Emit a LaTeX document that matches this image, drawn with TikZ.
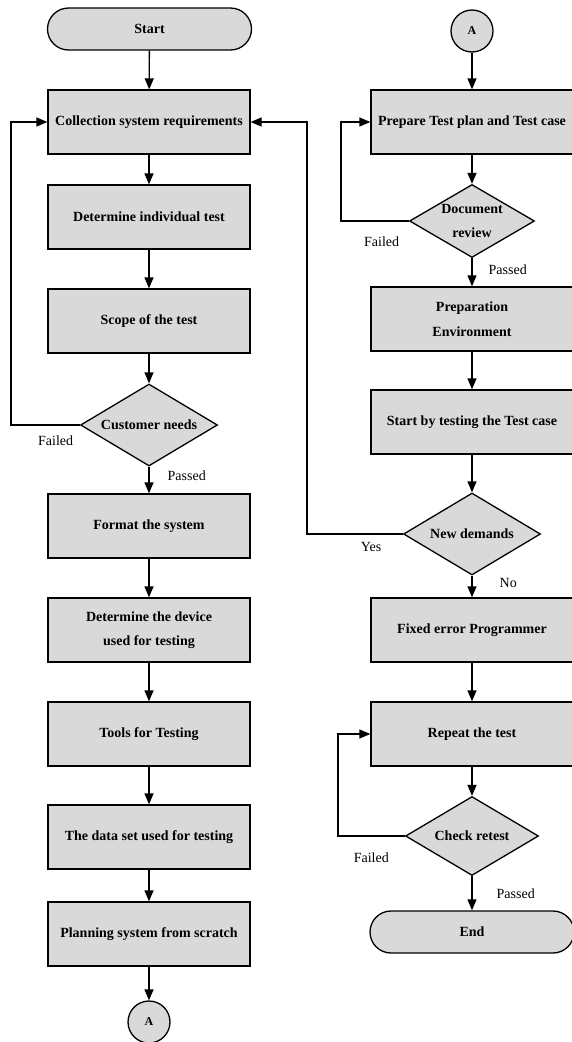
\documentclass[tikz,border=0pt]{standalone}
\usepackage{fontspec}
\setmainfont{Liberation Serif}
\usetikzlibrary{arrows.meta,shapes.geometric,shapes.misc,positioning}
\definecolor{boxgray}{HTML}{D9D9D9}

\begin{document}
\begin{tikzpicture}[x=1pt,y=-1pt,
    every node/.style={font=\fontsize{14}{24.5}\selectfont},
    process/.style={rectangle, draw, fill=boxgray, line width=1.3pt, minimum width=202pt, minimum height=64pt, inner sep=0pt, align=center, font=\bfseries\fontsize{14}{24.5}\selectfont},
    terminal/.style={rounded rectangle, draw, fill=boxgray, line width=1.3pt, minimum width=204pt, minimum height=42pt, inner sep=0pt, font=\bfseries\fontsize{14}{24.5}\selectfont},
    decision/.style={diamond, draw, fill=boxgray, line width=1.3pt, shape aspect=1.7, minimum width=137pt, minimum height=82pt, inner sep=0pt, align=center, font=\bfseries\fontsize{14}{24.5}\selectfont},
    joint/.style={circle, draw, fill=boxgray, line width=1.3pt, minimum size=42pt, inner sep=0pt, font=\bfseries\fontsize{12}{14}\selectfont},
    lbl/.style={inner sep=0pt},
    flow/.style={-{Triangle[length=11pt,width=9pt]}, line width=1.3pt}]
    \useasboundingbox (0,0) rectangle (571,1042);
    % left column
    \node[terminal] (start) at (149.5,29) {Start};
    \node[process] (coll) at (149,122) {Collection system requirements};
    \node[process] (indiv) at (149,217) {Determine individual test};
    \node[process] (scope) at (149,321) {Scope of the test};
    \node[decision] (cust) at (149,425) {Customer needs};
    \node[process] (format) at (149,526) {Format the system};
    \node[process] (device) at (149,630) {Determine the device\\used for testing};
    \node[process] (tools) at (149,734) {Tools for Testing};
    \node[process] (dataset) at (149,837) {The data set used for testing};
    \node[process] (plan) at (149,934) {Planning system from scratch};
    \node[joint] (aleft) at (149,1022) {A};
    % right column
    \node[joint] (aright) at (472,31) {A};
    \node[process] (prep) at (472,122) {Prepare Test plan and Test case};
    \node[decision, minimum width=125pt, minimum height=73pt] (review) at (472,221) {Document\\review};
    \node[process] (env) at (472,319) {Preparation\\Environment};
    \node[process] (testing) at (472,422) {Start by testing the Test case};
    \node[decision] (demand) at (472,534) {New demands};
    \node[process] (fixerr) at (472,630) {Fixed error Programmer};
    \node[process] (repeat) at (472,734) {Repeat the test};
    \node[decision, minimum width=133pt, minimum height=79pt] (retest) at (472,836) {Check retest};
    \node[terminal] (end) at (472,932) {End};

    \draw[flow] (start) -- (coll);
    \draw[flow] (coll) -- (indiv);
    \draw[flow] (indiv) -- (scope);
    \draw[flow] (scope) -- (cust);
    \draw[flow] (cust) -- node[lbl, pos=0.35, right=18pt] {Passed} (format);
    \draw[flow] (cust.west) -- node[lbl, pos=0.35, below=10pt] {Failed} ++(-69,0) |- (coll.west);
    \draw[flow] (format) -- (device);
    \draw[flow] (device) -- (tools);
    \draw[flow] (tools) -- (dataset);
    \draw[flow] (dataset) -- (plan);
    \draw[flow] (plan) -- (aleft);

    \draw[flow] (aright) -- (prep);
    \draw[flow] (prep) -- (review);
    \draw[flow] (review) -- node[lbl, pos=0.41, right=16pt] {Passed} (env);
    \draw[flow] (review.west) -- node[lbl, pos=0.4, below=15pt] {Failed} ++(-68,0) |- (prep.west);
    \draw[flow] (env) -- (testing);
    \draw[flow] (testing) -- (demand);
    \draw[flow] (demand) -- node[lbl, pos=0.32, right=27pt] {No} (fixerr);
    \draw[flow] (demand.west) -- node[lbl, pos=0.33, below=8pt] {Yes} ++(-96,0) |- (coll.east);
    \draw[flow] (fixerr) -- (repeat);
    \draw[flow] (repeat) -- (retest);
    \draw[flow] (retest) -- node[lbl, pos=0.5, right=24pt] {Passed} (end);
    \draw[flow] (retest.west) -- node[lbl, pos=0.5, below=16pt] {Failed} ++(-67,0) |- (repeat.west);
\end{tikzpicture}
\end{document}
